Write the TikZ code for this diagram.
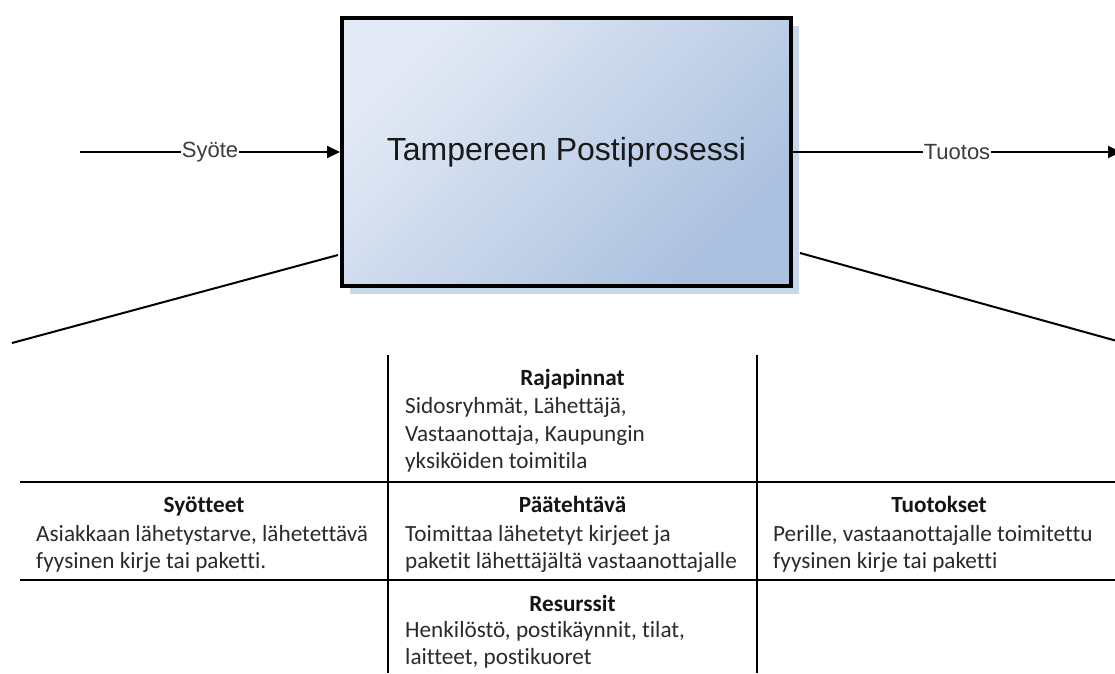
\documentclass[tikz,border=0pt]{standalone}
\usepackage{fontspec}
\setmainfont{Carlito}[Ligatures=NoCommon]
\newfontfamily\arialfont{Liberation Sans}
\usetikzlibrary{arrows.meta,shadows,calc}
\definecolor{boxlight}{HTML}{E3EAF5}
\definecolor{boxdark}{HTML}{AAC0DF}
\definecolor{shadowblue}{HTML}{C9D7EB}
\definecolor{labelgray}{HTML}{3C3C3C}
\definecolor{celltext}{HTML}{2A2A2A}
\tikzset{
 procbox/.style={draw=black, line width=4pt, minimum width=449pt, minimum height=268pt,
   top color=boxlight, bottom color=boxdark, shading angle=45,
   drop shadow={shadow xshift=8pt, shadow yshift=-8pt, fill=shadowblue, opacity=1},
   font=\arialfont\fontsize{32}{38}\selectfont, text=black!90, inner sep=0pt},
 flow/.style={line width=2pt, -{Triangle[length=13pt,width=12pt]}},
 flowlabel/.style={fill=white, inner sep=1pt, font=\arialfont\fontsize{22}{26}\selectfont, text=labelgray},
 fanline/.style={line width=2pt},
 tablerule/.style={line width=2pt},
 cellhead/.style={anchor=base, inner sep=0pt, font=\bfseries\fontsize{23.2}{27.5}\selectfont, text=black!92},
 cellbody/.style={anchor=base west, inner sep=0pt, font=\fontsize{23.2}{27.5}\selectfont, text=celltext},
}
\begin{document}
\begin{tikzpicture}[x=1pt,y=-1pt]
\useasboundingbox (0,0) rectangle (1115,673);
% process box
\node[procbox] (box) at (566.5,152) {Tampereen Postiprosessi};
% input / output arrows
\coordinate (inStart) at (80,152);
\coordinate (outEnd) at (1121,152);
\draw[flow] (inStart) -- node[flowlabel] (lblIn) {Syöte} (box.west);
\draw[flow] (box.east) -- node[flowlabel] (lblOut) {Tuotos} (outEnd);
% fan lines
\coordinate (fanLa) at (338,255);
\coordinate (fanLb) at (12,343);
\coordinate (fanRa) at (800,253);
\coordinate (fanRb) at (1117,341);
\draw[fanline] (fanLa) -- (fanLb);
\draw[fanline] (fanRa) -- (fanRb);
% table rules
\coordinate (h1a) at (20,482);  \coordinate (h1b) at (1115,482);
\coordinate (h2a) at (20,580);  \coordinate (h2b) at (1115,580);
\coordinate (v1a) at (388,355); \coordinate (v1b) at (388,673);
\coordinate (v2a) at (757,355); \coordinate (v2b) at (757,673);
\draw[tablerule] (h1a) -- (h1b);
\draw[tablerule] (h2a) -- (h2b);
\draw[tablerule] (v1a) -- (v1b);
\draw[tablerule] (v2a) -- (v2b);
% top cell
\node[cellhead] (rajaH) at (572.5,385) {Rajapinnat};
\node[cellbody] (raja1) at (405,413) {Sidosryhmät, Lähettäjä,};
\node[cellbody] (raja2) at (405,441) {Vastaanottaja, Kaupungin};
\node[cellbody] (raja3) at (405,468) {yksiköiden toimitila};
% left cell
\node[cellhead] (syoH) at (204,512) {Syötteet};
\node[cellbody] (syo1) at (36,541) {Asiakkaan lähetystarve, lähetettävä};
\node[cellbody] (syo2) at (36,568) {fyysinen kirje tai paketti.};
% middle cell
\node[cellhead] (paaH) at (572.5,512) {Päätehtävä};
\node[cellbody] (paa1) at (405,541) {Toimittaa lähetetyt kirjeet ja};
\node[cellbody] (paa2) at (405,568) {paketit lähettäjältä vastaanottajalle};
% right cell
\node[cellhead] (tuoH) at (939,512) {Tuotokset};
\node[cellbody] (tuo1) at (773,541) {Perille, vastaanottajalle toimitettu};
\node[cellbody] (tuo2) at (773,568) {fyysinen kirje tai paketti};
% bottom cell
\node[cellhead] (resH) at (572.5,611) {Resurssit};
\node[cellbody] (res1) at (405,637) {Henkilöstö, postikäynnit, tilat,};
\node[cellbody] (res2) at (405,664) {laitteet, postikuoret};
\end{tikzpicture}
\end{document}
